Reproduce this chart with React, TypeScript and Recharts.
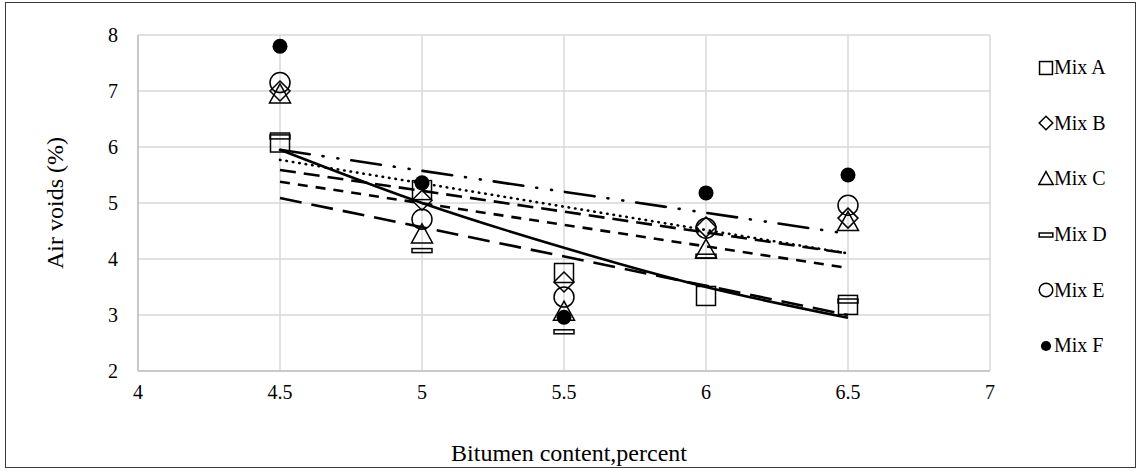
import React from 'react';
import { ComposedChart, Scatter, Line, XAxis, YAxis, CartesianGrid } from 'recharts';

// Bitumen content (x) for every mix
const bitumen = [4.5, 5, 5.5, 6, 6.5];

// Air voids (%) per mix
const mixA = [6.08, 5.23, 3.75, 3.34, 3.18];
const mixB = [7.0, 5.05, 3.59, 4.57, 4.73];
const mixC = [6.93, 4.43, 3.05, 4.16, 4.65];
const mixD = [6.18, 4.15, 2.7, 4.05, 3.25];
const mixE = [7.15, 4.71, 3.32, 4.55, 4.96];
const mixF = [7.8, 5.36, 2.96, 5.18, 5.5];

// Trend lines
const trendA = [5.95, 5.0, 4.2, 3.5, 2.95]; // curved (exponential) trend, read at each bitumen content
const trendX = [4.5, 6.5];
const trendB = [5.59, 4.1];
const trendC = [5.38, 3.84];
const trendD = [5.09, 3.0];
const trendE = [5.77, 4.1];
const trendF = [5.95, 4.45];

const xTicks = [4, 4.5, 5, 5.5, 6, 6.5, 7];
const yTicks = [2, 3, 4, 5, 6, 7, 8];
const mixNames = ['Mix A', 'Mix B', 'Mix C', 'Mix D', 'Mix E', 'Mix F'];

const FONT = '"Liberation Serif", "Times New Roman", serif';
const INK = '#000';

const toPts = (xs: number[], ys: number[]) => xs.map((x, i) => ({ x, y: ys[i] }));

const SW = 1.5;
const makeShapes = (k: number): Record<string, (p: any) => React.ReactElement> => ({
  square: (p) => <rect x={p.cx - 9.5 * k} y={p.cy - 9.5 * k} width={19 * k} height={19 * k} fill="none" stroke={INK} strokeWidth={SW} />,
  diamond: (p) => (
    <polygon
      points={`${p.cx},${p.cy - 10 * k} ${p.cx + 10 * k},${p.cy} ${p.cx},${p.cy + 10 * k} ${p.cx - 10 * k},${p.cy}`}
      fill="none" stroke={INK} strokeWidth={SW}
    />
  ),
  triangle: (p) => (
    <polygon
      points={`${p.cx},${p.cy - 11 * k} ${p.cx + 10.5 * k},${p.cy + 8 * k} ${p.cx - 10.5 * k},${p.cy + 8 * k}`}
      fill="none" stroke={INK} strokeWidth={SW}
    />
  ),
  dash: (p) => <rect x={p.cx - 10 * k} y={p.cy - 2} width={20 * k} height={4} fill="none" stroke={INK} strokeWidth={SW} />,
  circle: (p) => <circle cx={p.cx} cy={p.cy} r={10 * k} fill="none" stroke={INK} strokeWidth={SW} />,
  dot: (p) => <circle cx={p.cx} cy={p.cy} r={7.5 * k} fill={INK} stroke="none" />,
});
const shapes = makeShapes(1);
const legendShapes = makeShapes(0.68);

const series = [
  { name: mixNames[0], values: mixA, shape: 'square' },
  { name: mixNames[1], values: mixB, shape: 'diamond' },
  { name: mixNames[2], values: mixC, shape: 'triangle' },
  { name: mixNames[3], values: mixD, shape: 'dash' },
  { name: mixNames[4], values: mixE, shape: 'circle' },
  { name: mixNames[5], values: mixF, shape: 'dot' },
];

const trends = [
  { key: 'tA', xs: bitumen, ys: trendA, dash: undefined, cap: 'butt', type: 'monotone' },
  { key: 'tB', xs: trendX, ys: trendB, dash: '16 8', cap: 'butt', type: 'linear' },
  { key: 'tC', xs: trendX, ys: trendC, dash: '10 8', cap: 'butt', type: 'linear' },
  { key: 'tD', xs: trendX, ys: trendD, dash: '22 10', cap: 'butt', type: 'linear' },
  { key: 'tE', xs: trendX, ys: trendE, dash: '0.5 6', cap: 'round', type: 'linear' },
  { key: 'tF', xs: trendX, ys: trendF, dash: '30 13 1 14 1 13', cap: 'round', type: 'linear' },
];

const LegendMarker = ({ shape }: { shape: string }) => (
  <svg width={16} height={18} style={{ display: 'block' }}>
    {legendShapes[shape]({ cx: 8, cy: 9 })}
  </svg>
);

const YTitle = (props: any) => {
  const vb = props.viewBox || { y: 35, height: 336 };
  const cx = 55;
  const cy = vb.y + vb.height / 2;
  return (
    <text x={cx} y={cy} transform={`rotate(-90 ${cx} ${cy})`} textAnchor="middle" dominantBaseline="central"
      fontFamily={FONT} fontSize={24} fill={INK}>
      Air voids (%)
    </text>
  );
};

const XTitle = (props: any) => {
  const vb = props.viewBox || { x: 138, width: 852 };
  const cx = vb.x + vb.width / 2 + 5;
  return (
    <text x={cx} y={453} textAnchor="middle" dominantBaseline="central" fontFamily={FONT} fontSize={24} fill={INK}>
      Bitumen content,percent
    </text>
  );
};

export default function App() {
  return (
    <div style={{ position: 'absolute', left: 0, top: 0, width: 1140, height: 471, background: '#fff' }}>
      <div style={{ position: 'absolute', left: 5, top: 2, width: 1129, height: 464, border: '1.5px solid #3a3a3a' }} />
      <ComposedChart width={1140} height={471} margin={{ top: 35, right: 150, bottom: 40, left: 0 }}>
        <CartesianGrid stroke="#d9d9d9" strokeWidth={1.5} />
        <XAxis
          type="number" dataKey="x" domain={[4, 7]} ticks={xTicks} height={60}
          axisLine={{ stroke: '#c0c0c0', strokeWidth: 1.5 }} tickLine={false} tickSize={0} tickMargin={14}
          tick={{ fontFamily: FONT, fontSize: 20, fill: INK }}
          label={<XTitle />}
        />
        <YAxis
          type="number" dataKey="y" domain={[2, 8]} ticks={yTicks} width={138}
          axisLine={{ stroke: '#c0c0c0', strokeWidth: 1.5 }} tickLine={false} tickSize={0} tickMargin={20}
          tick={{ fontFamily: FONT, fontSize: 20, fill: INK }}
          label={<YTitle />}
        />
        {trends.map((t) => (
          <Line
            key={t.key} data={toPts(t.xs, t.ys)} dataKey="y" type={t.type as any}
            stroke={INK} strokeWidth={2.6} strokeDasharray={t.dash} strokeLinecap={t.cap as any}
            dot={false} activeDot={false} isAnimationActive={false} legendType="none"
          />
        ))}
        {series.map((s) => (
          <Scatter
            key={s.name} name={s.name} data={toPts(bitumen, s.values)} dataKey="y"
            shape={shapes[s.shape]} isAnimationActive={false}
          />
        ))}
      </ComposedChart>
      <div style={{ position: 'absolute', left: 1038, top: 40, fontFamily: FONT, fontSize: 20, color: INK }}>
        {series.map((s) => (
          <div key={s.name} style={{ display: 'flex', alignItems: 'center', height: 55.6, whiteSpace: 'nowrap' }}>
            <LegendMarker shape={s.shape} />
            <span>{s.name}</span>
          </div>
        ))}
      </div>
    </div>
  );
}
